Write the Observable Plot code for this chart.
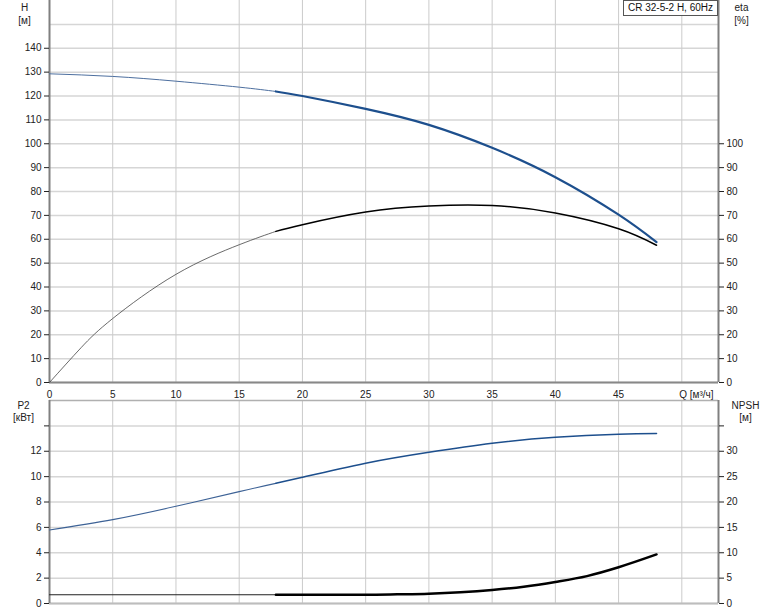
<!DOCTYPE html>
<html>
<head>
<meta charset="utf-8">
<script src="https://cdn.jsdelivr.net/npm/d3@7"></script>
<script src="https://cdn.jsdelivr.net/npm/@observablehq/plot@0.6"></script>
<style>
  html, body { margin: 0; padding: 0; background: #fff; }
  #wrap { position: relative; width: 774px; height: 611px; overflow: hidden; font-family: "Liberation Sans", Arial, sans-serif; }
  #wrap svg { position: absolute; left: 0; }
  #legend { position: absolute; left: 623px; top: 0px; width: 93px; height: 14px; border: 1px solid #555; background: #fff;
            font: 10px "Liberation Sans", Arial, sans-serif; color: #111; line-height: 14px; text-align: center; box-sizing: content-box; }
</style>
</head>
<body>
<div id="wrap"></div>
<script>
// ---- data ----
const chartTitle = "CR 32-5-2 H, 60Hz";
const SPLIT = 17.9;            // flow where curves turn from thin to bold
const X_MAX = 52.9;            // right edge of Q axis

const qH   = [0, 5, 10, 15, 17.9, 20, 25, 30, 35, 40, 45, 48];
const head = [129.3, 128.2, 126.2, 123.7, 121.9, 120.0, 114.6, 107.9, 98.3, 86.0, 70.3, 58.8];

const qEta = [0, 2.5, 5, 10, 15, 17.9, 20, 25, 30, 35, 40, 45, 48];
const eta  = [0, 14.6, 26.8, 45.3, 57.7, 63.3, 66.1, 71.4, 73.9, 74.1, 71.0, 64.4, 57.5];

const qP2 = [0, 5, 10, 15, 17.9, 20, 25, 30, 35, 40, 45, 48];
const p2  = [5.79, 6.61, 7.66, 8.82, 9.47, 9.95, 11.06, 11.92, 12.63, 13.1, 13.34, 13.39];

const qNpsh = [0, 17.9, 25, 27.5, 30, 32.5, 35, 37.5, 40, 42.5, 45, 48];
const npsh  = [1.72, 1.72, 1.72, 1.8, 1.92, 2.2, 2.65, 3.3, 4.24, 5.4, 7.15, 9.67];

const xTicks    = [0, 5, 10, 15, 20, 25, 30, 35, 40, 45];
const xGrid     = [5, 10, 15, 20, 25, 30, 35, 40, 45, 50];
const hTicks    = [0, 10, 20, 30, 40, 50, 60, 70, 80, 90, 100, 110, 120, 130, 140];
const hGrid     = [0, 10, 20, 30, 40, 50, 60, 70, 80, 90, 100, 110, 120, 130, 140, 150];
const etaTicks  = [0, 10, 20, 30, 40, 50, 60, 70, 80, 90, 100];
const p2Ticks   = [0, 2, 4, 6, 8, 10, 12, 14];
const p2Labels  = [0, 2, 4, 6, 8, 10, 12];
const npshLabels = [0, 5, 10, 15, 20, 25, 30];
const NPSH_PER_P2 = 2.5;

const rows = (qs, vs) => qs.map((q, i) => ({q, v: vs[i]}));
const H = rows(qH, head), E = rows(qEta, eta), P = rows(qP2, p2), N = rows(qNpsh, npsh);
const thin = a => a.filter(d => d.q <= SPLIT);
const bold = a => a.filter(d => d.q >= SPLIT);

const FONT = "'Liberation Sans', Arial, sans-serif";
const baseStyle = {fontSize: "10px", fontFamily: FONT, color: "#222", background: "transparent", overflow: "visible"};
const gridH = {stroke: "#d6d6d6", strokeOpacity: 1, strokeWidth: 1.5};
const gridV = {stroke: "#cbcbcb", strokeOpacity: 1, strokeWidth: 1};
const axisLine = {stroke: "#808080", strokeWidth: 2};
const BLUE = "#1d4f8d";
const CURVE = "natural";

const topPlot = Plot.plot({
  width: 774, height: 400,
  marginLeft: 49, marginRight: 774 - 718, marginTop: 0, marginBottom: 18,
  style: baseStyle,
  x: {domain: [0, X_MAX]},
  y: {domain: [0, 160]},
  marks: [
    Plot.gridY(hGrid, gridH),
    Plot.gridX(xGrid, gridV),
    Plot.ruleY([0], {stroke: "#888", strokeWidth: 2}),
    Plot.ruleX([0], axisLine),
    Plot.ruleX([X_MAX], axisLine),
    Plot.axisY(hTicks, {anchor: "left", tickSize: 5, tickPadding: 3, label: null}),
    Plot.axisY(etaTicks, {anchor: "right", tickSize: 5, tickPadding: 3, label: null}),
    Plot.axisX(xTicks, {anchor: "bottom", tickSize: 0, tickPadding: 8, label: null}),
    Plot.lineY(thin(E), {x: "q", y: "v", stroke: "#444", strokeWidth: 0.8, curve: CURVE}),
    Plot.lineY(bold(E), {x: "q", y: "v", stroke: "#000", strokeWidth: 1.5, curve: CURVE}),
    Plot.lineY(thin(H), {x: "q", y: "v", stroke: "#4d6f9f", strokeWidth: 1, curve: CURVE}),
    Plot.lineY(bold(H), {x: "q", y: "v", stroke: BLUE, strokeWidth: 2.2, curve: CURVE}),
    Plot.text(["H\n[м]"], {text: d => d, frameAnchor: "top-left", dx: -25, dy: 1, textAnchor: "middle", lineAnchor: "top", lineHeight: 1.3, fill: "#222"}),
    Plot.text(["eta\n[%]"], {text: d => d, frameAnchor: "top-right", dx: 23, dy: 1, textAnchor: "middle", lineAnchor: "top", lineHeight: 1.3, fill: "#222"}),
    Plot.text(["Q [м³/ч]"], {text: d => d, frameAnchor: "bottom-right", dx: -5, dy: 8, textAnchor: "end", lineAnchor: "top", fill: "#222"})
  ]
});
topPlot.style.top = "0px";

const bottomPlot = Plot.plot({
  width: 774, height: 221,
  marginLeft: 49, marginRight: 774 - 718, marginTop: 10, marginBottom: 8,
  style: baseStyle,
  x: {domain: [0, X_MAX], axis: null},
  y: {domain: [0, 16]},
  marks: [
    Plot.gridY(p2Ticks, gridH),
    Plot.gridX(xGrid, gridV),
    Plot.ruleY([16], {stroke: "#b0b0b0", strokeWidth: 1.5}),
    Plot.ruleY([0], {stroke: "#bdbdbd", strokeWidth: 2}),
    Plot.ruleX([0], axisLine),
    Plot.ruleX([X_MAX], axisLine),
    Plot.axisY(p2Ticks, {anchor: "left", tickSize: 5, tickPadding: 3, label: null,
      tickFormat: d => p2Labels.includes(d) ? String(d) : ""}),
    Plot.axisY(p2Ticks, {anchor: "right", tickSize: 5, tickPadding: 3, label: null,
      tickFormat: d => npshLabels.includes(d * NPSH_PER_P2) ? String(d * NPSH_PER_P2) : ""}),
    Plot.lineY(thin(P), {x: "q", y: "v", stroke: "#3d6296", strokeWidth: 1.1, curve: CURVE}),
    Plot.lineY(bold(P), {x: "q", y: "v", stroke: BLUE, strokeWidth: 1.5, curve: CURVE}),
    Plot.lineY(thin(N), {x: "q", y: d => d.v / NPSH_PER_P2, stroke: "#222", strokeWidth: 1.2, curve: "monotone-x"}),
    Plot.lineY(bold(N), {x: "q", y: d => d.v / NPSH_PER_P2, stroke: "#000", strokeWidth: 2.5, curve: "monotone-x"}),
    Plot.text(["P2\n[кВт]"], {text: d => d, frameAnchor: "top-left", dx: -26, dy: 0, textAnchor: "middle", lineAnchor: "top", lineHeight: 1.2, fill: "#222"}),
    Plot.text(["NPSH\n[м]"], {text: d => d, frameAnchor: "top-right", dx: 27, dy: 0, textAnchor: "middle", lineAnchor: "top", lineHeight: 1.2, fill: "#222"})
  ]
});
bottomPlot.style.top = "390px";

const wrap = document.getElementById("wrap");
wrap.appendChild(topPlot);
wrap.appendChild(bottomPlot);
const lg = document.createElement("div");
lg.id = "legend";
lg.textContent = chartTitle;
wrap.appendChild(lg);
</script>
</body>
</html>
